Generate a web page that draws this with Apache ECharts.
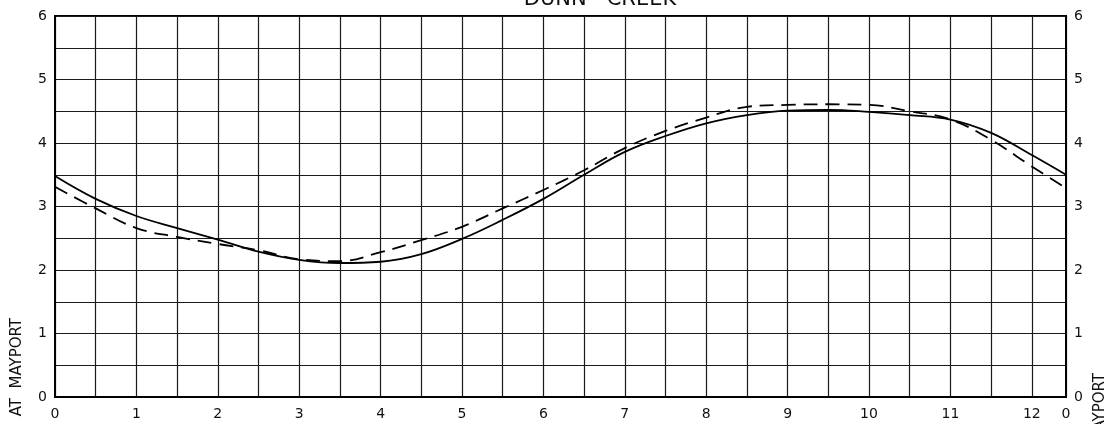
<!DOCTYPE html>
<html>
<head>
<meta charset="utf-8">
<script src="https://cdn.jsdelivr.net/npm/echarts@6/dist/echarts.min.js"></script>
<style>
html,body{margin:0;padding:0;background:#fff;}
#chart{width:1112px;height:424px;}
</style>
</head>
<body>
<div id="chart"></div>
<script>
// Hours of the tidal cycle (12.42 h), grid every half hour
const hours = [0,0.5,1,1.5,2,2.5,3,3.5,4,4.5,5,5.5,6,6.5,7,7.5,8,8.5,9,9.5,10,10.5,11,11.5,12,12.42];
// Solid curve
const solidValues = [3.48,3.12,2.85,2.66,2.48,2.29,2.16,2.11,2.13,2.25,2.49,2.79,3.12,3.50,3.86,4.11,4.31,4.44,4.51,4.52,4.49,4.44,4.37,4.16,3.81,3.50];
// Dashed curve
const dashedValues = [3.31,2.97,2.66,2.52,2.41,2.31,2.17,2.14,2.28,2.47,2.68,2.97,3.26,3.57,3.92,4.19,4.40,4.57,4.60,4.61,4.60,4.50,4.37,4.05,3.63,3.29];
const xTickLabels = ['0','1','2','3','4','5','6','7','8','9','10','11','12'];
const cycleEndLabel = '0';
const title = 'DUNN   CREEK';
const axisName = 'AT  MAYPORT';

const chart = echarts.init(document.getElementById('chart'));
const font = 'DejaVu Sans';
const ink = '#111';

function xLabel(v) {
  if (Math.abs(v - 12.42) < 1e-6) return cycleEndLabel;
  if (Math.abs(v - Math.round(v)) < 1e-6) return xTickLabels[Math.round(v)] || '';
  return '';
}
function yLabel(v) {
  return Math.abs(v - Math.round(v)) < 1e-6 ? String(Math.round(v)) : '';
}

const gridLine = {show: true, lineStyle: {color: '#1a1a1a', width: 1.2}};

chart.setOption({
  animation: false,
  backgroundColor: '#fff',
  grid: {left: 55, right: 46, top: 16, bottom: 27, show: true, borderColor: '#000', borderWidth: 2},
  xAxis: {
    type: 'value', min: 0, max: 12.42, interval: 0.5,
    axisLine: {show: true, lineStyle: {color: '#000', width: 2}},
    axisTick: {show: false},
    splitLine: gridLine,
    axisLabel: {formatter: xLabel, color: ink, fontFamily: font, fontSize: 14, margin: 10, showMaxLabel: true, showMinLabel: true, hideOverlap: false}
  },
  yAxis: [{
    type: 'value', min: 0, max: 6, interval: 0.5,
    axisLine: {show: true, lineStyle: {color: '#000', width: 2}},
    axisTick: {show: false},
    splitLine: gridLine,
    axisLabel: {formatter: yLabel, color: ink, fontFamily: font, fontSize: 14, margin: 8}
  }, {
    type: 'value', min: 0, max: 6, interval: 0.5, position: 'right',
    axisLine: {show: true, lineStyle: {color: '#000', width: 2}},
    axisTick: {show: false},
    splitLine: {show: false},
    axisLabel: {formatter: yLabel, color: ink, fontFamily: font, fontSize: 14, margin: 8}
  }],
  graphic: [
    {type: 'text', x: 600, y: 0, style: {text: title, align: 'center', verticalAlign: 'middle', fontFamily: font, fontSize: 21, fill: ink}},
    {type: 'text', x: 17, y: 318, rotation: Math.PI / 2, style: {text: axisName, align: 'right', verticalAlign: 'middle', fontFamily: font, fontSize: 15, fill: ink}},
    {type: 'text', x: 1100, y: 373, rotation: Math.PI / 2, style: {text: axisName, align: 'right', verticalAlign: 'middle', fontFamily: font, fontSize: 15, fill: ink}}
  ],
  series: [{
    type: 'line', smooth: 0.4, symbol: 'none',
    data: hours.map((h, i) => [h, solidValues[i]]),
    lineStyle: {color: '#000', width: 1.8}
  }, {
    type: 'line', smooth: 0.4, symbol: 'none',
    data: hours.map((h, i) => [h, dashedValues[i]]),
    lineStyle: {color: '#000', width: 1.8, type: [14, 8]}
  }]
});
</script>
</body>
</html>
